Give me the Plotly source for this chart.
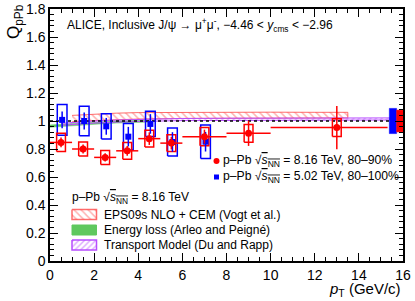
import plotly.graph_objects as go

# ---------------- data ----------------
# p-Pb 8.16 TeV, 80-90%
red_pt = [0.5, 1.5, 2.5, 3.5, 4.5, 5.5, 7.0, 9.0, 13.0]
red_pt_lo = [0, 1, 2, 3, 4, 5, 6, 8, 10]
red_pt_hi = [1, 2, 3, 4, 5, 6, 8, 10, 15.3]
red_q = [0.847, 0.800, 0.740, 0.787, 0.874, 0.842, 0.888, 0.912, 0.953]
red_stat = [0.035, 0.033, 0.030, 0.035, 0.045, 0.045, 0.050, 0.090, 0.155]
red_sys = [0.065, 0.050, 0.050, 0.060, 0.060, 0.060, 0.065, 0.063, 0.063]

# p-Pb 5.02 TeV, 80-100%
blue_pt = [0.55, 1.55, 2.55, 3.55, 4.55, 5.55, 7.05]
blue_q = [1.008, 1.000, 0.962, 0.888, 0.979, 0.850, 0.852]
blue_stat = [0.060, 0.060, 0.060, 0.070, 0.070, 0.070, 0.070]
blue_sys = [0.110, 0.105, 0.090, 0.095, 0.090, 0.100, 0.120]

# global (correlated) uncertainties
global_red = 0.078
global_blue = 0.090

# models
eps_pt = [1, 2, 3, 4, 6, 8, 10, 12, 13.5]
eps_hi = [1.040, 1.050, 1.056, 1.060, 1.062, 1.063, 1.063, 1.062, 1.062]
eps_lo = [0.995, 1.003, 1.010, 1.014, 1.018, 1.020, 1.021, 1.022, 1.022]

eloss_pt = [0, 1, 2, 3, 4, 4.5]
eloss_hi = [0.972, 0.982, 0.992, 1.000, 1.004, 1.006]
eloss_lo = [0.955, 0.965, 0.976, 0.985, 0.990, 0.992]

trans_pt = [0.5, 1, 2, 3, 4, 5, 6, 8, 10, 12, 14, 15.4]
trans_lo = [0.968, 0.975, 0.985, 0.992, 0.997, 1.000, 1.003, 1.005, 1.006, 1.007, 1.007, 1.007]
trans_hi = [0.983, 0.990, 1.000, 1.007, 1.012, 1.015, 1.018, 1.020, 1.021, 1.022, 1.022, 1.022]

x_range = [0, 16]
y_range = [0, 1.8]
ref_level = 1.0

title_text = "ALICE, Inclusive J/ψ → μ<sup>+</sup>μ<sup>-</sup>, −4.46 < <i>y</i><sub>cms</sub> < −2.96"
sq = "√<span style='text-decoration:overline'><i>s</i><sub>NN</sub></span>"
leg_red = "p–Pb " + sq + " = 8.16 TeV, 80–90%"
leg_blue = "p–Pb " + sq + " = 5.02 TeV, 80–100%"
model_header = "p–Pb " + sq + " = 8.16 TeV"
model_names = ["EPS09s NLO + CEM (Vogt et al.)", "Energy loss (Arleo and Peigné)",
               "Transport Model (Du and Rapp)"]

RED = "#ff0000"
BLUE = "#0000ff"
GREEN = "#5fc85f"
PURPLE = "#b84dff"
EPS_LINE = "rgba(255,60,60,0.75)"
EPS_HATCH = "rgba(255,70,70,0.85)"
FONT = "Liberation Sans, Arial, Helvetica, sans-serif"

# plot-area geometry in pixels
PL, PR, PT, PB = 50, 403, 9, 261


def boxes(xc, yc, half_w, half_h):
    xs, ys = [], []
    for x, y, h in zip(xc, yc, half_h):
        xs += [x - half_w, x + half_w, x + half_w, x - half_w, x - half_w, None]
        ys += [y - h, y - h, y + h, y + h, y - h, None]
    return xs, ys


def band(xs, lo, hi):
    return list(xs) + list(xs)[::-1], list(hi) + list(lo)[::-1]


fig = go.Figure()

# model bands
bx, by = band(eps_pt, eps_lo, eps_hi)
fig.add_trace(go.Scatter(x=bx, y=by, mode="lines", fill="toself",
                         line=dict(color=EPS_LINE, width=1),
                         fillcolor="rgba(0,0,0,0)",
                         fillpattern=dict(shape="\\", fgcolor=EPS_HATCH,
                                          bgcolor="rgba(0,0,0,0)", size=5, solidity=0.3),
                         showlegend=False, hoverinfo="skip"))
bx, by = band(eloss_pt, eloss_lo, eloss_hi)
fig.add_trace(go.Scatter(x=bx, y=by, mode="lines", fill="toself",
                         line=dict(color=GREEN, width=0.5), fillcolor=GREEN,
                         showlegend=False, hoverinfo="skip"))
bx, by = band(trans_pt, trans_lo, trans_hi)
fig.add_trace(go.Scatter(x=bx, y=by, mode="lines", fill="toself",
                         line=dict(color=PURPLE, width=1),
                         fillcolor="rgba(0,0,0,0)",
                         fillpattern=dict(shape="/", fgcolor=PURPLE,
                                          bgcolor="rgba(0,0,0,0)", size=4, solidity=0.35),
                         showlegend=False, hoverinfo="skip"))

# reference line
fig.add_trace(go.Scatter(x=x_range, y=[ref_level, ref_level], mode="lines",
                         line=dict(color="black", width=1.5, dash="dot"),
                         showlegend=False, hoverinfo="skip"))

# systematic boxes
bx, by = boxes(blue_pt, blue_q, 0.22, blue_sys)
fig.add_trace(go.Scatter(x=bx, y=by, mode="lines", line=dict(color=BLUE, width=1.5),
                         showlegend=False, hoverinfo="skip"))
bx, by = boxes(red_pt, red_q, 0.2, red_sys)
fig.add_trace(go.Scatter(x=bx, y=by, mode="lines", line=dict(color=RED, width=1.5),
                         showlegend=False, hoverinfo="skip"))

# points
fig.add_trace(go.Scatter(
    x=blue_pt, y=blue_q, mode="markers",
    marker=dict(symbol="square", size=6, color=BLUE),
    error_y=dict(type="data", array=blue_stat, color=BLUE, thickness=1.5, width=0),
    showlegend=False))
fig.add_trace(go.Scatter(
    x=red_pt, y=red_q, mode="markers",
    marker=dict(symbol="circle", size=7, color=RED),
    error_y=dict(type="data", array=red_stat, color=RED, thickness=1.5, width=0),
    error_x=dict(type="data", symmetric=False,
                 array=[h - p for h, p in zip(red_pt_hi, red_pt)],
                 arrayminus=[p - l for l, p in zip(red_pt_lo, red_pt)],
                 color=RED, thickness=1.5, width=0),
    showlegend=False))

# global uncertainty boxes at the right edge
fig.add_trace(go.Scatter(x=[15.38, 15.71, 15.71, 15.38, 15.38],
                         y=[ref_level - global_blue, ref_level - global_blue,
                            ref_level + global_blue, ref_level + global_blue,
                            ref_level - global_blue],
                         mode="lines", fill="toself", fillcolor=BLUE,
                         line=dict(color=BLUE, width=0.5), showlegend=False, hoverinfo="skip"))
fig.add_trace(go.Scatter(x=[15.71, 16.0, 16.0, 15.71, 15.71],
                         y=[ref_level - global_red, ref_level - global_red,
                            ref_level + global_red, ref_level + global_red,
                            ref_level - global_red],
                         mode="lines", fill="toself", fillcolor=RED,
                         line=dict(color=RED, width=0.5), showlegend=False, hoverinfo="skip"))

# ---------------- legend swatches (overlay pixel axes) ----------------
def rect(x0, x1, y0, y1):
    return [x0, x1, x1, x0, x0], [y0, y0, y1, y1, y0]

rx, ry = rect(72, 96.5, 209.5, 219.5)
fig.add_trace(go.Scatter(x=rx, y=ry, xaxis="x2", yaxis="y2", mode="lines", fill="toself",
                         line=dict(color=EPS_LINE, width=1.5),
                         fillcolor="rgba(0,0,0,0)",
                         fillpattern=dict(shape="\\", fgcolor=EPS_HATCH,
                                          bgcolor="rgba(0,0,0,0)", size=5, solidity=0.3),
                         showlegend=False, hoverinfo="skip"))
rx, ry = rect(72, 96.5, 225, 235)
fig.add_trace(go.Scatter(x=rx, y=ry, xaxis="x2", yaxis="y2", mode="lines", fill="toself",
                         line=dict(color=GREEN, width=1), fillcolor=GREEN,
                         showlegend=False, hoverinfo="skip"))
rx, ry = rect(72, 96.5, 240, 250)
fig.add_trace(go.Scatter(x=rx, y=ry, xaxis="x2", yaxis="y2", mode="lines", fill="toself",
                         line=dict(color=PURPLE, width=1.5),
                         fillcolor="rgba(0,0,0,0)",
                         fillpattern=dict(shape="/", fgcolor=PURPLE,
                                          bgcolor="rgba(0,0,0,0)", size=4, solidity=0.35),
                         showlegend=False, hoverinfo="skip"))
fig.add_trace(go.Scatter(x=[216.5], y=[161], xaxis="x2", yaxis="y2", mode="markers",
                         marker=dict(symbol="circle", size=6, color=RED),
                         showlegend=False, hoverinfo="skip"))
fig.add_trace(go.Scatter(x=[216.5], y=[177], xaxis="x2", yaxis="y2", mode="markers",
                         marker=dict(symbol="square", size=5, color=BLUE),
                         showlegend=False, hoverinfo="skip"))

ann = []
def text(px, py, s, size=12, xanchor="left", yanchor="middle", angle=0):
    ann.append(dict(x=(px - PL) / (PR - PL), y=(PB - py) / (PB - PT),
                    xref="paper", yref="paper", text=s, showarrow=False,
                    xanchor=xanchor, yanchor=yanchor, textangle=angle,
                    font=dict(family=FONT, size=size, color="black")))

text(65, 25, title_text, size=12)
text(220.5, 161, leg_red, size=12.2)
text(220.5, 177, leg_blue, size=12.2)
text(69.5, 197.5, model_header, size=12)
for yy, nm in zip([214.5, 230, 245], model_names):
    text(101.5, yy, nm, size=12)
text(15, 22, "Q<sub>pPb</sub>", size=17, xanchor="center", angle=-90)
text(403, 289.5, "<i>p</i><sub>T</sub> (GeV/c)", size=15, xanchor="right")

axis_common = dict(showline=True, linecolor="black", linewidth=1.5, mirror="allticks",
                   ticks="inside", ticklen=8, tickwidth=1, tickcolor="black",
                   showgrid=False, zeroline=False, automargin=False,
                   tickfont=dict(family=FONT, size=14, color="black"))

fig.update_layout(
    width=415, height=301,
    margin=dict(l=PL, r=415 - PR, t=PT, b=301 - PB, pad=0, autoexpand=False),
    paper_bgcolor="white", plot_bgcolor="white",
    showlegend=False,
    xaxis=dict(range=x_range, dtick=2, tick0=0,
               minor=dict(dtick=0.5, ticklen=4, ticks="inside", tickcolor="black"),
               **axis_common),
    yaxis=dict(range=y_range, dtick=0.2, tick0=0,
               minor=dict(dtick=0.04, ticklen=4, ticks="inside", tickcolor="black"),
               **axis_common),
    xaxis2=dict(overlaying="x", range=[PL, PR], visible=False, anchor="y2",
                automargin=False),
    yaxis2=dict(overlaying="y", range=[PB, PT], visible=False, anchor="x2",
                automargin=False),
    annotations=ann,
)

fig.write_html("out.html", config={"displayModeBar": False},
               post_script="document.body.style.margin='0';")
